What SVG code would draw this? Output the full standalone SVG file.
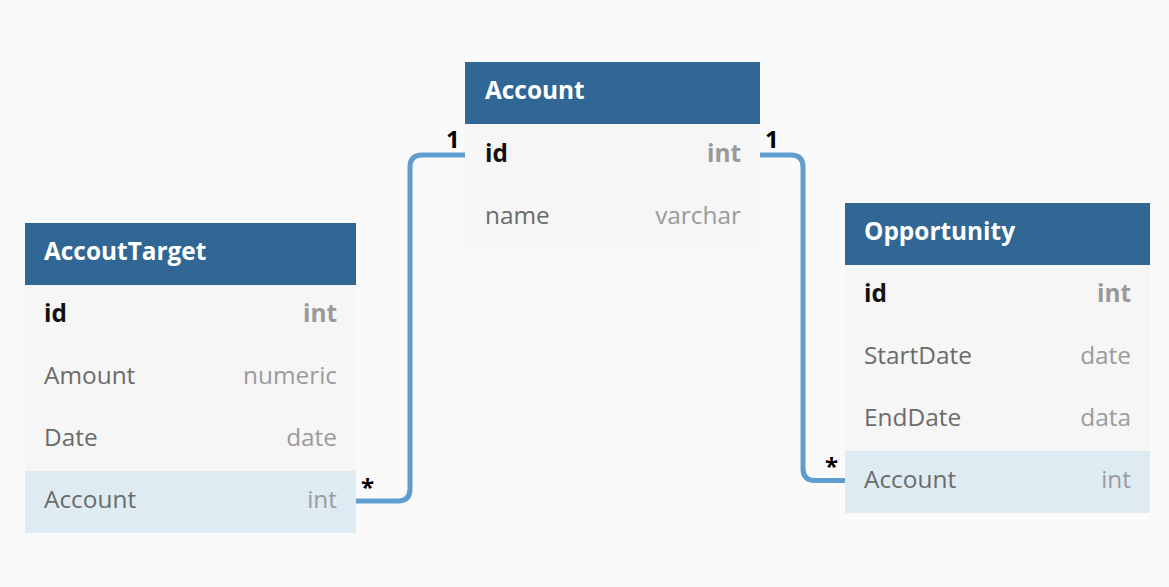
<svg xmlns="http://www.w3.org/2000/svg" width="1169" height="587" viewBox="0 0 1169 587">
<style>
.hdr{fill:#316794}
.row{fill:#f6f6f6}
.hl{fill:#deebf3}
.title{font-family:"Open Sans","Liberation Sans",sans-serif;font-weight:bold;font-size:24.4px;fill:#ffffff}
.fname{font-family:"Open Sans","Liberation Sans",sans-serif;font-size:24.4px;fill:#6b6b6b}
.ftype{font-family:"Open Sans","Liberation Sans",sans-serif;font-size:24.4px;fill:#9b9b9b;text-anchor:end}
.pk{font-weight:bold;fill:#111111}
.pkt{font-weight:bold;fill:#999999}
.conn{fill:none;stroke:#609dcf;stroke-width:5}
.lbl{font-family:"Open Sans","Liberation Sans",sans-serif;font-weight:bold;font-size:24px;fill:#000000}
</style>
<rect x="0" y="0" width="1169" height="587" fill="#fafafa"/>
<g id="connectors">
<path class="conn" d="M465,155 H422 Q410,155 410,167 V489 Q410,501 398,501 H356"/>
<path class="conn" d="M760,155 H791 Q803,155 803,167 V468.5 Q803,480.5 815,480.5 H845"/>
<text class="lbl" x="446" y="148">1</text>
<text class="lbl" x="765" y="148">1</text>
<text class="lbl" x="361" y="496">*</text>
<text class="lbl" x="825" y="475">*</text>
</g>
<g id="account">
<rect class="hdr" x="465" y="62" width="295" height="62"/>
<rect class="row" x="465" y="124" width="295" height="124"/>
<text class="title" x="485" y="99">Account</text>
<text class="fname pk" x="485" y="162">id</text>
<text class="ftype pkt" x="741" y="162">int</text>
<text class="fname" x="485" y="224">name</text>
<text class="ftype" x="741" y="224">varchar</text>
</g>
<g id="accouttarget">
<rect class="hdr" x="25" y="223" width="331" height="62"/>
<rect class="row" x="25" y="285" width="331" height="186"/>
<rect class="hl" x="25" y="471" width="331" height="62"/>
<text class="title" x="44" y="260">AccoutTarget</text>
<text class="fname pk" x="44" y="322">id</text>
<text class="ftype pkt" x="337" y="322">int</text>
<text class="fname" x="44" y="384">Amount</text>
<text class="ftype" x="337" y="384">numeric</text>
<text class="fname" x="44" y="446">Date</text>
<text class="ftype" x="337" y="446">date</text>
<text class="fname" x="44" y="508">Account</text>
<text class="ftype" x="337" y="508">int</text>
</g>
<g id="opportunity">
<rect class="hdr" x="845" y="203" width="305" height="62"/>
<rect class="row" x="845" y="265" width="305" height="186"/>
<rect class="hl" x="845" y="451" width="305" height="62"/>
<text class="title" x="864" y="240">Opportunity</text>
<text class="fname pk" x="864" y="302">id</text>
<text class="ftype pkt" x="1131" y="302">int</text>
<text class="fname" x="864" y="364">StartDate</text>
<text class="ftype" x="1131" y="364">date</text>
<text class="fname" x="864" y="426">EndDate</text>
<text class="ftype" x="1131" y="426">data</text>
<text class="fname" x="864" y="488">Account</text>
<text class="ftype" x="1131" y="488">int</text>
</g>
</svg>
